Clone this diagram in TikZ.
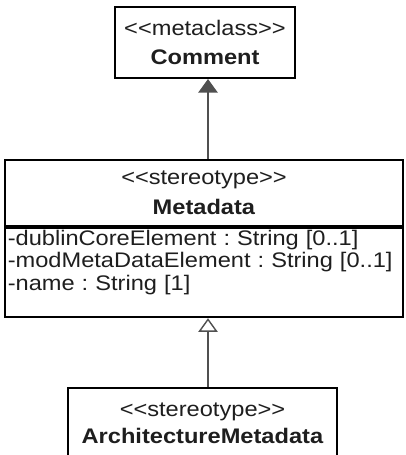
\documentclass[tikz,border=0pt]{standalone}
\usepackage{fontspec}
\setmainfont{Liberation Sans}[FakeStretch=1.12,Ligatures=TeXOff]
\usetikzlibrary{arrows.meta,positioning}
\definecolor{Ink}{HTML}{1E1E1E}
\definecolor{LinkGray}{HTML}{505050}
\frenchspacing

\begin{document}
\begin{tikzpicture}[x=0.025cm,y=-0.025cm,
  umlbox/.style={draw=black,line width=1.4pt,fill=white,text=Ink,inner sep=0pt,
    font=\fontsize{15}{16}\selectfont},
  header/.style={umlbox,align=center},
  attrs/.style={umlbox,align=left,inner xsep=2pt,inner ysep=1.5pt},
  extends/.style={draw=LinkGray,line width=1.3pt,
    -{Triangle[length=0.34cm,width=0.48cm,fill=LinkGray]}},
  generalize/.style={draw=LinkGray,line width=1.3pt,
    -{Triangle[open,length=0.34cm,width=0.48cm,fill=white,line width=1pt]}}
]
\clip (0,0) rectangle (406,455);
\fill[white] (0,0) rectangle (406,455);

\node[header,minimum width=4.5cm,minimum height=1.775cm] (comment) at (205,42.5)
  {<<metaclass>>\\[4pt]\textbf{Comment}};

\node[header,minimum width=9.95cm,minimum height=1.65cm] (meta) at (204,193)
  {<<stereotype>>\\[5pt]\textbf{Metadata}};
\node[attrs,text width=9.95cm-4pt,anchor=north] (metaattrs) at (meta.south)
  {-dublinCoreElement : String [0..1]\\
   -modMetaDataElement : String [0..1]\\
   -name : String [1]\\[1.6pt]\mbox{}};

\node[header,minimum width=6.725cm,minimum height=1.75cm] (archmeta) at (202.5,423)
  {<<stereotype>>\\[3pt]\textbf{ArchitectureMetadata}};

% inheritance links
\coordinate (linkx) at (208,0);
\draw[extends] (meta.north -| linkx) -- (comment.south -| linkx);
\draw[generalize] (archmeta.north -| linkx) -- (metaattrs.south -| linkx);
\end{tikzpicture}
\end{document}
